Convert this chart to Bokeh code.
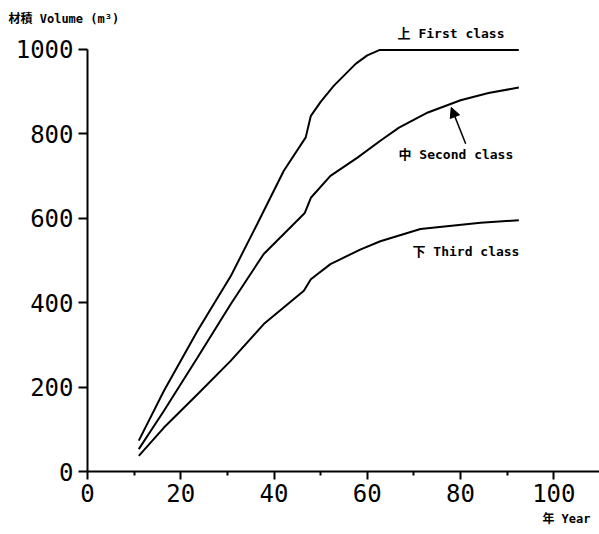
from bokeh.plotting import figure
from bokeh.models import Range1d, Label, Arrow, NormalHead, FixedTicker, Title
from bokeh.embed import file_html
from bokeh.resources import INLINE

# ---- data ----
first_years = [11, 16.4, 23.6, 30.7, 36.4, 42.1, 46.8, 47.9, 50, 52.8, 57.5, 60, 62.7, 92.5]
first_vol = [73, 191, 333, 462, 586, 712, 791, 842, 875, 913, 965, 985, 998, 998]

second_years = [11, 16.4, 23.6, 30.7, 37.8, 46.6, 47.9, 52.1, 57.9, 62.8, 66.8, 73, 80, 86, 92.5]
second_vol = [53, 144, 270, 396, 515, 612, 648, 700, 743, 783, 814, 850, 879, 896, 909]

third_years = [11, 16.4, 23.6, 30.7, 37.8, 46.4, 47.9, 52.1, 58.6, 62.8, 71.4, 84.3, 92.5]
third_vol = [37, 104, 183, 262, 349, 428, 455, 491, 526, 545, 574, 589, 595]

x_ticks = [0, 20, 40, 60, 80, 100]
y_ticks = [0, 200, 400, 600, 800, 1000]

labels = ["上 First class", "中 Second class", "下 Third class"]
y_title = "材積 Volume  (m³)"
x_title = "年 Year"

MONO = "DejaVu Sans Mono, Noto Sans CJK JP"

p = figure(width=599, height=534, output_backend="svg", toolbar_location=None,
           x_range=Range1d(0, 109.8), y_range=Range1d(0, 1053.5),
           min_border_left=87, min_border_right=0, min_border_top=26, min_border_bottom=63)

p.grid.visible = False
p.outline_line_color = None
p.background_fill_color = "white"
p.border_fill_color = "white"

for xs, ys in [(first_years, first_vol), (second_years, second_vol), (third_years, third_vol)]:
    p.line(xs, ys, line_color="black", line_width=2)

# axes
xa = p.xaxis[0]
xa.ticker = FixedTicker(ticks=x_ticks, minor_ticks=[10, 30, 50, 70, 90])
xa.axis_line_width = 2
xa.major_tick_line_width = 2
xa.minor_tick_line_width = 2
xa.major_tick_out = 8
xa.major_tick_in = 0
xa.minor_tick_out = 4
xa.minor_tick_in = 0
xa.major_label_standoff = 4
xa.major_label_text_font = MONO
xa.major_label_text_font_size = "24px"
xa.major_label_text_color = "black"

ya = p.yaxis[0]
ya.ticker = FixedTicker(ticks=y_ticks, minor_ticks=[])
ya.bounds = (0, 1000)
ya.axis_line_width = 2
ya.major_tick_line_width = 2
ya.major_tick_out = 9
ya.major_tick_in = 0
ya.major_label_standoff = 5
ya.major_label_text_font = MONO
ya.major_label_text_font_size = "24px"
ya.major_label_text_color = "black"

# series labels
def add_label(x, y, text, size="13px"):
    p.add_layout(Label(x=x, y=y, text=text, text_font=MONO, text_font_size=size,
                       text_font_style="bold", text_baseline="middle", text_align="left",
                       text_color="black"))

add_label(66.5, 1036, labels[0])
add_label(66.7, 750, labels[1])
add_label(69.7, 520, labels[2])

# axis titles
p.add_layout(Title(text=y_title, align="left", offset=-79, standoff=2,
                   text_font=MONO, text_font_size="12px", text_font_style="bold",
                   text_color="black"), "above")
p.add_layout(Title(text=x_title, align="right", offset=9, standoff=10,
                   text_font=MONO, text_font_size="12px", text_font_style="bold",
                   text_color="black"), "below")

p.add_layout(Arrow(end=NormalHead(size=10, fill_color="black", line_color="black"),
                   x_start=81.1, y_start=776, x_end=78.0, y_end=862,
                   line_color="black", line_width=1.5))

open("out.html", "w").write(file_html(p, INLINE))
